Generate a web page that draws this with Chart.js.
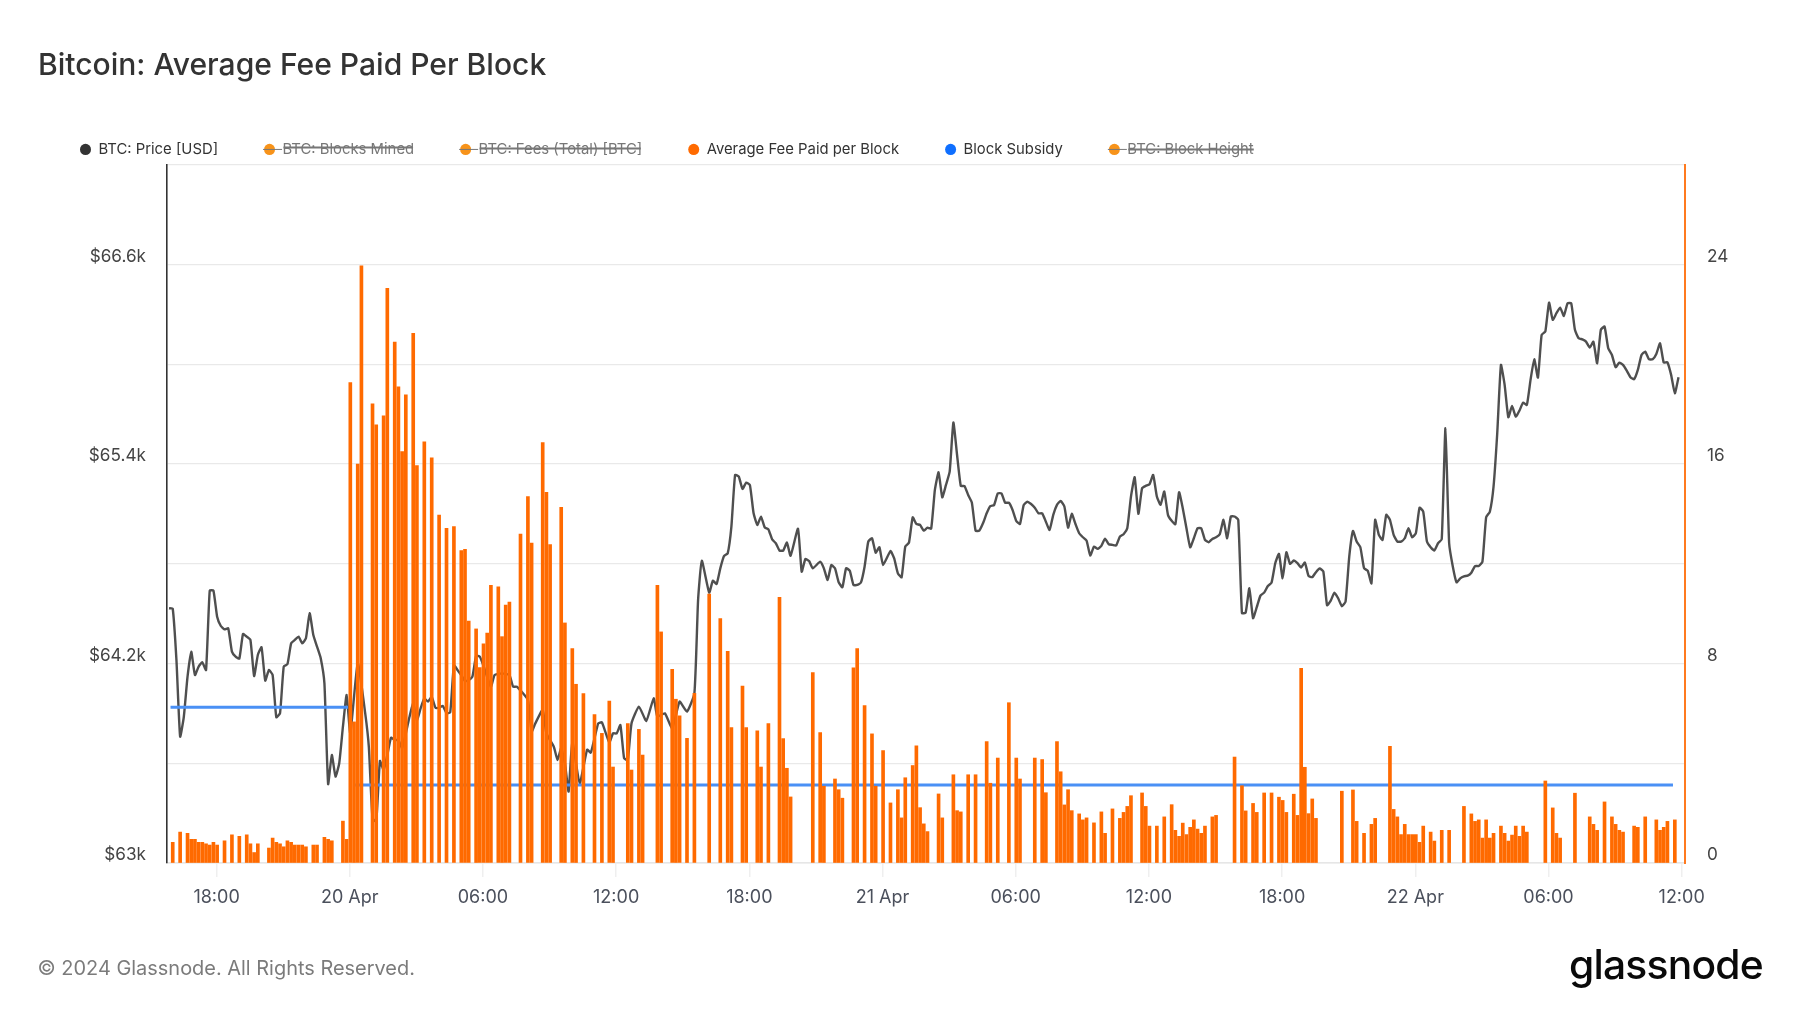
<!DOCTYPE html>
<html>
<head>
<meta charset="utf-8">
<style>
html,body{margin:0;padding:0;background:#fff;width:1800px;height:1013px;overflow:hidden;font-family:Inter,sans-serif}
#wrap{position:relative;width:1800px;height:1013px}
canvas{position:absolute;left:0;top:0}
.t{position:absolute;white-space:nowrap}
#title{left:38px;top:44px;font-size:30.05px;font-weight:500;color:#333;line-height:40px}
#foot{left:37.5px;top:954px;font-size:19.95px;color:#7b7b7b;line-height:28px}
#logo{left:1569px;top:936px;font-family:Inter,sans-serif;font-size:40.8px;font-weight:500;color:#0a0a0a;line-height:56px;letter-spacing:-.8px}
</style>
<script src="https://cdn.jsdelivr.net/npm/chart.js@4"></script>
</head>
<body>
<div id="wrap">
<canvas id="c" width="1800" height="1013"></canvas>
<div class="t" id="title">Bitcoin: Average Fee Paid Per Block</div>
<div class="t" id="foot">© 2024 Glassnode. All Rights Reserved.</div>
<div class="t" id="logo">glassnode</div>
</div>
<script>
// 10-minute slots, slot 0 = 19 Apr 16:00
const firstSlotMinute = 961.5;
const slotMinutes = 10;

const xTickMinutes = [1080,1440,1800,2160,2520,2880,3240,3600,3960,4320,4680,5040];
const xTickLabels = ['18:00','20 Apr','06:00','12:00','18:00','21 Apr','06:00','12:00','18:00','22 Apr','06:00','12:00'];

// price in USD, one value per slot, starting at slot -1
const priceA = [64533,
64530,64222,63760,63880,64121,64272,64131,64182,64208,64161,
64639,64639,64482,64426,64406,64412,64272,64242,64230,64378,
64362,64342,64125,64252,64298,64097,64161,64131,63877,63901,
64182,64196,64322,64342,64362,64322,64352,64503,64372,64302,
64232,64081,63475,63650,63520,63600,63820,64011,63780,null,
64204,null,63905,63700,63270,63250,63614,63560,63650,63754,
63740,63740,63692,63780,63880,63960,63860,63930,63990,63971,
64000,63935,63935,63945,63902,63906,64190,64160,64130,64095,
64100,64121,64246,64242,64186,null,64061,64131,null,64141,
null,64131,64061,64061,null,null,63981,63790,63840,null];
const priceB = [
63921,63780,null,63700,63620,63690,63600,63430,63730,null,
63480,null,63682,63664,null,63840,63846,null,63726,63780,
63780,63830,63630,63620,63840,null,63941,null,63855,null,
63991,63880,null,63901,null,63810,null,63971,null,63911,
null,64021,64583,64819,null,64627,64699,64679,64773,64847,
64863,65024,65335,65325,65251,65289,65275,65104,65034,65084,
65020,65008,64948,64924,64880,64880,64928,64849,null,65012,
64753,64829,64817,64773,null,64813,64773,64703,64793,64773,
64689,64659,64773,64759,64673,64673,64687,64783,64934,64954,
64867,64900,64793,null,64877,64833,64743,64719,64904,64928];
const priceC = [
65080,65040,65034,65000,65018,65012,65245,65351,65200,65275,
65355,65650,65455,65269,65269,65214,65168,65000,65000,65044,
65104,65148,65154,65224,65224,65168,65168,65124,65058,65040,
65154,65174,65160,65138,65104,65104,65054,65004,65095,65155,
65179,65145,65018,65101,65040,64984,64960,64940,64850,64904,
64890,64908,64952,64918,64914,64910,64964,64978,65014,65205,
65321,65101,65255,65269,65279,65335,65205,65155,65235,65095,
65059,65038,65231,65135,65014,64900,64954,65014,65014,64944,
64930,64950,64960,64978,65065,64954,65085,65085,65065,64503,
64507,64653,64473,64539,64609,64627,64667,64687,64804,64860];
const priceD = [
64713,64870,64800,64820,64804,64778,64808,64727,64720,64750,
64772,64754,64551,64579,64627,64593,64545,64573,64844,64998,
64934,64900,64774,64758,64683,65065,64974,64944,65095,65065,
64974,64934,64934,64954,65014,64960,64984,65138,65114,64934,
64900,64880,64924,64948,65616,64924,64783,64689,64713,64725,
64729,64747,64787,64787,64813,65080,65114,65265,65586,65997,
65877,65682,65750,65686,65722,65770,65756,65907,66031,65921,
66178,66198,66372,66268,66308,66342,66292,66368,66368,66208,
66158,66151,66137,66101,66137,66007,66208,66228,66097,66057,
65983,66011,65997,65963,65923,65911,65967,66057,66077,66031,
66031,66063,66127,66011,66013,65937,65826,65923];
const priceValues = [...priceA,...priceB,...priceC,...priceD];

// average fee per block (BTC) at the slots that have a bar
const feeSlotsA = [0,2,4,5,6,7,8,9,10,11,12,14,16,18,20,21,22,23,26,27,28,29,30,31,32,33,34,35,36,38,39,41,42,43,46,47,
48,49,50,51,54,55,57,58,60,61,62,63,65,66,68,70,72,74,76,78,79,
80,82,83,84,85,86,88,89,90,91,94,96,97,100,101,102,105,106,108,109,111,114,116,118,119,123,124,126,127,131,132,135,136,137,139,141,145,148,150,151];
const feeValuesA = [.83,1.24,1.19,.95,.95,.83,.83,.77,.72,.83,.72,.89,1.13,1.07,1.13,.77,.42,.77,.6,1.0,.83,.77,.65,.89,.83,.72,.72,.72,.65,.72,.72,1.03,.95,.89,1.68,.95,
19.27,5.66,16,23.96,18.42,17.58,17.94,23.05,20.9,19.1,16.5,18.78,21.25,15.94,16.9,16.25,13.96,13.43,13.5,12.53,12.58,
9.7,9.39,7.84,8.79,9.22,11.14,11.08,9.08,10.35,10.47,13.19,14.7,12.83,16.87,14.87,12.77,14.27,9.63,8.6,7.17,6.8,5.95,5.2,6.5,3.85,5.59,3.73,5.36,4.33,11.14,9.27,7.77,6.57,5.9,5,6.81,10.79,9.8,8.49,5.43];
const feeSlotsB = [154,155,158,159,161,164,165,166,167,173,175,176,179,180,181,184,185,187,189,190,192,194,196,197,198,200,201,202,203,204,207,208,211,212,213,215,217,220,221,223,226,228,229,233,235,236,239,240,241,242,243,245,246,247,249,251,252,254,
256,257,258,259,262,263,264,266,268,270,271,272,273,274,275,276,277,278,279,281,282,287,289,290,292,293,295,297,299,300,301,303,304,305,306,307,308,309];
const feeValuesB = [7.1,5.43,5.3,3.85,5.59,10.66,4.99,3.8,2.65,7.64,5.23,3.08,3.37,2.94,2.6,7.83,8.6,6.31,5.18,3.08,4.51,2.41,2.94,1.81,3.42,3.91,4.7,2.22,1.57,1.26,2.77,1.81,3.54,2.1,2.05,3.54,3.54,4.87,3.2,4.21,6.43,4.21,3.37,4.21,4.15,2.82,4.87,3.66,2.33,2.94,2.1,1.97,1.73,1.81,1.61,2.05,1.19,2.17,
1.79,2.03,2.27,2.7,2.81,2.27,1.48,1.48,1.85,2.34,1.31,1.07,1.6,1.14,1.43,1.73,1.36,1.19,1.48,1.85,1.91,4.25,3.1,2.09,2.39,2.03,2.81,2.81,2.64,2.51,2.03,2.76,1.91,7.81,3.84,1.98,2.57,1.79];
const feeSlotsC = [316,319,320,322,324,325,329,330,331,332,333,334,335,336,337,338,340,341,343,345,349,351,352,353,354,355,356,357,359,360,361,362,363,364,365,366,371,373,374,375,379,383,384,385,387,389,390,391,392,395,396,398,401,402,403,404,406];
const feeValuesC = [2.88,2.93,1.67,1.19,1.55,1.79,4.68,2.15,1.85,1.14,1.55,1.14,1.14,1.14,.83,1.48,1.24,.88,1.31,1.31,2.27,1.97,1.67,1.73,1,1.73,1,1.19,1.48,1.19,.88,1.12,1.48,1.07,1.48,1.24,3.29,2.21,1.19,1,2.8,1.85,1.55,1.31,2.45,1.85,1.55,1.31,1.24,1.48,1.43,1.85,1.73,1.31,1.43,1.67,1.73];
const feeSlots = [...feeSlotsA,...feeSlotsB,...feeSlotsC];
const feeValues = [...feeValuesA,...feeValuesB,...feeValuesC];

// block subsidy (BTC): halving gap around slot 48
const subsidySlots = [-0.6,47.4,48,49.3,405.5];
const subsidyValues = [6.25,6.25,null,3.125,3.125];

const seriesNames = ['BTC: Price [USD]','BTC: Blocks Mined','BTC: Fees (Total) [BTC]','Average Fee Paid per Block','Block Subsidy','BTC: Block Height'];
const seriesColors = ['#333333','#f7931a','#f7931a','#ff6a00','#0f6fff','#f7931a'];

const toMinute = s => firstSlotMinute + s * slotMinutes;
const priceData = priceValues.map((v,i)=>({x:toMinute(i-1),y:v}));
const feeData = feeSlots.map((s,i)=>({x:toMinute(s),y:feeValues[i]}));
const subsidyData = subsidySlots.map((s,i)=>({x:toMinute(s),y:subsidyValues[i]}));

const font = 'Inter';
const legendFix = {
  id:'legendFix',
  beforeInit(chart){
    const fit = chart.legend.fit;
    chart.legend.fit = function(){ fit.call(this); this.height = 69; };
  },
  afterDraw(chart){
    // strike passes through the marker of hidden series, as in the source
    const l = chart.legend, ctx = chart.ctx;
    l.legendItems.forEach((it,i)=>{
      if(!it.hidden) return;
      const b = l.legendHitBoxes[i];
      ctx.save();
      ctx.strokeStyle = '#777'; ctx.lineWidth = 1;
      ctx.beginPath();
      ctx.moveTo(b.left-1,b.top+b.height/2);
      ctx.lineTo(b.left+18,b.top+b.height/2);
      ctx.stroke();
      ctx.restore();
    });
  }
};

new Chart(document.getElementById('c'),{
  type:'bar',
  data:{datasets:[
    {type:'line',label:seriesNames[0],data:priceData,yAxisID:'yL',xAxisID:'x',borderColor:'rgba(60,60,60,.9)',backgroundColor:seriesColors[0],borderWidth:2.4,pointRadius:0,tension:0.15,spanGaps:true,order:5,borderJoinStyle:'round'},
    {type:'line',label:seriesNames[1],data:[],hidden:true,yAxisID:'yR',xAxisID:'x',borderColor:seriesColors[1],backgroundColor:seriesColors[1],order:6},
    {type:'line',label:seriesNames[2],data:[],hidden:true,yAxisID:'yR',xAxisID:'x',borderColor:seriesColors[2],backgroundColor:seriesColors[2],order:7},
    {type:'bar',label:seriesNames[3],data:feeData,yAxisID:'yR',xAxisID:'x',backgroundColor:seriesColors[3],borderColor:seriesColors[3],borderWidth:0,barThickness:3,order:1},
    {type:'line',label:seriesNames[4],data:subsidyData,yAxisID:'yR',xAxisID:'x',borderColor:'#4a90f5',backgroundColor:seriesColors[4],borderWidth:3,pointRadius:0,spanGaps:false,order:2},
    {type:'line',label:seriesNames[5],data:[],hidden:true,yAxisID:'yR',xAxisID:'x',borderColor:seriesColors[5],backgroundColor:seriesColors[5],order:8}
  ]},
  plugins:[legendFix],
  options:{
    responsive:false,animation:false,
    devicePixelRatio:1,
    layout:{padding:{left:34,top:96,right:0,bottom:0}},
    plugins:{
      tooltip:{enabled:false},
      title:{display:false},
      legend:{
        display:true,position:'top',align:'start',onClick:null,
        labels:{
          usePointStyle:true,pointStyle:'circle',boxHeight:8,pointStyleWidth:11,padding:46,
          font:{family:font,size:14.85},color:'#333',
          sort:(a,b)=>a.datasetIndex-b.datasetIndex,
          generateLabels(chart){
            return chart.data.datasets.map((d,i)=>({
              text:d.label,datasetIndex:i,hidden:!!d.hidden,
              fillStyle:seriesColors[i],strokeStyle:seriesColors[i],lineWidth:0,
              pointStyle:'circle',fontColor:d.hidden?'#777':'#333'
            }));
          }
        }
      }
    },
    scales:{
      x:{
        type:'linear',position:'bottom',min:946,max:5049,offset:false,
        afterBuildTicks(s){ s.ticks = xTickMinutes.map(v=>({value:v})); },
        afterFit(s){ s.height = 150; },
        border:{color:'#e6e6e6',width:1.5},
        grid:{offset:false,drawOnChartArea:false,drawTicks:true,tickLength:14,color:'#efefef',lineWidth:1.5},
        ticks:{
          autoSkip:false,maxRotation:0,padding:10,color:'#4b505c',font:{family:font,size:18},
          callback(v){ const i=xTickMinutes.indexOf(v); return i<0?'':xTickLabels[i]; }
        }
      },
      yL:{
        type:'linear',position:'left',min:63000,max:67200,
        afterFit(s){ s.width = 133; },
        border:{color:'#333',width:1.6},
        grid:{color:'#e9e9e9',lineWidth:1.3,drawTicks:false},
        ticks:{
          stepSize:600,padding:21,labelOffset:-8,color:'#444',font:{family:font,size:17.2},
          callback(v){ return (v-63000)%1200===0 && v<67000 ? '$'+(v/1000)+'k' : ''; }
        }
      },
      yR:{
        type:'linear',position:'right',min:0,max:28,
        afterFit(s){ s.width = 115; },
        border:{color:'#ff7a1f',width:2},
        grid:{drawOnChartArea:false,drawTicks:false},
        ticks:{
          stepSize:4,padding:22,labelOffset:-8,color:'#444',font:{family:font,size:17.2},
          callback(v){ return v%8===0 && v<28 ? String(v) : ''; }
        }
      }
    }
  }
});
</script>
</body>
</html>
